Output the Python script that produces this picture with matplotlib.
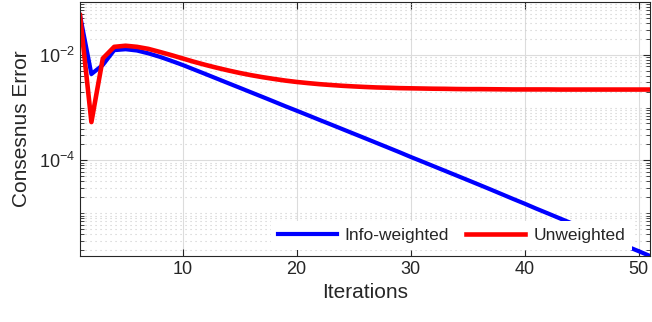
import numpy as np
import matplotlib
matplotlib.use('Agg')
import matplotlib.pyplot as plt
from matplotlib.ticker import FixedLocator, NullFormatter

# values
iterations = list(range(1, 52))
info_weighted = [
    5.6e-2, 4.3e-3, 6.4e-3, 1.22e-2, 1.27e-2, 1.20e-2, 1.06e-2, 9.12e-3, 7.67e-3, 6.40e-3,
    5.25e-3, 4.31e-3, 3.53e-3, 2.89e-3, 2.37e-3, 1.94e-3, 1.59e-3, 1.30e-3, 1.06e-3, 8.71e-4,
    7.13e-4, 5.83e-4, 4.78e-4, 3.91e-4, 3.20e-4, 2.62e-4, 2.14e-4, 1.75e-4, 1.43e-4, 1.16e-4,
    9.5e-5, 7.76e-5, 6.34e-5, 5.18e-5, 4.23e-5, 3.45e-5, 2.81e-5, 2.28e-5, 1.85e-5, 1.51e-5,
    1.22e-5, 9.95e-6, 8.09e-6, 6.58e-6, 5.35e-6, 4.35e-6, 3.53e-6, 2.87e-6, 2.33e-6, 1.90e-6,
    1.54e-6,
]
unweighted = [
    5.6e-2, 5.3e-4, 8.5e-3, 1.41e-2, 1.48e-2, 1.41e-2, 1.29e-2, 1.13e-2, 9.85e-3, 8.5e-3,
    7.35e-3, 6.42e-3, 5.66e-3, 5.04e-3, 4.52e-3, 4.10e-3, 3.76e-3, 3.48e-3, 3.24e-3, 3.05e-3,
    2.90e-3, 2.77e-3, 2.67e-3, 2.58e-3, 2.51e-3, 2.45e-3, 2.40e-3, 2.37e-3, 2.33e-3, 2.31e-3,
    2.29e-3, 2.27e-3, 2.26e-3, 2.24e-3, 2.23e-3, 2.23e-3, 2.22e-3, 2.21e-3, 2.20e-3, 2.20e-3,
    2.20e-3, 2.20e-3, 2.19e-3, 2.19e-3, 2.19e-3, 2.19e-3, 2.19e-3, 2.19e-3, 2.19e-3, 2.19e-3,
    2.19e-3,
]
x_ticks = [10, 20, 30, 40, 50]
y_ticks = [1e-2, 1e-4]
y_tick_labels = [r'$10^{-2}$', r'$10^{-4}$']

plt.rcParams['font.family'] = ['Liberation Sans', 'DejaVu Sans']
plt.rcParams['mathtext.fontset'] = 'custom'
plt.rcParams['mathtext.rm'] = 'Liberation Sans'
plt.rcParams['mathtext.it'] = 'Liberation Sans:italic'

axis_col = '#262626'

fig = plt.figure(figsize=(6.52, 3.22), dpi=100)
ax = fig.add_axes([0.1227, 0.205, 0.8743, 0.789])

ax.semilogy(iterations, info_weighted, color='#0000ff', lw=3, label='Info-weighted')
ax.semilogy(iterations, unweighted, color='#ff0000', lw=3.3, label='Unweighted')

ax.set_xlim(1, 51)
ax.set_ylim(info_weighted[-1], 1e-1)

ax.set_xticks(x_ticks)
ax.yaxis.set_major_locator(FixedLocator(y_ticks))
ax.set_yticklabels(y_tick_labels)
minor = [m * 10.0 ** e for e in range(-7, 0) for m in range(1, 10)
         if not (m == 1 and e in (-2, -4))]
ax.yaxis.set_minor_locator(FixedLocator(minor))
ax.yaxis.set_minor_formatter(NullFormatter())

ax.grid(True, which='major', color='#dcdcdc', lw=0.8, ls='-')
ax.grid(True, which='minor', axis='y', color='#cccccc', lw=0.8, ls=(0, (1, 3.5)))
ax.set_axisbelow(True)

ax.tick_params(which='both', direction='in', top=True, right=True, colors=axis_col,
               labelcolor=axis_col, labelsize=13)
ax.tick_params(which='major', length=5, width=0.8)
ax.tick_params(which='minor', length=3, width=0.6)
for s in ax.spines.values():
    s.set_color(axis_col)
    s.set_linewidth(0.8)

ax.set_xlabel('Iterations', fontsize=15, color=axis_col, labelpad=4)
ax.set_ylabel('Consesnus Error', fontsize=15, color=axis_col, labelpad=6)

leg = ax.legend(loc='lower right', bbox_to_anchor=(0.979, 0.0), ncol=2, fontsize=12.5,
                handlelength=3.4, handletextpad=0.45, columnspacing=1.0, frameon=True,
                framealpha=1, facecolor='white', edgecolor='none',
                borderaxespad=0.35, fancybox=False)
for t in leg.get_texts():
    t.set_color(axis_col)

fig.savefig('out.png', dpi=100)
